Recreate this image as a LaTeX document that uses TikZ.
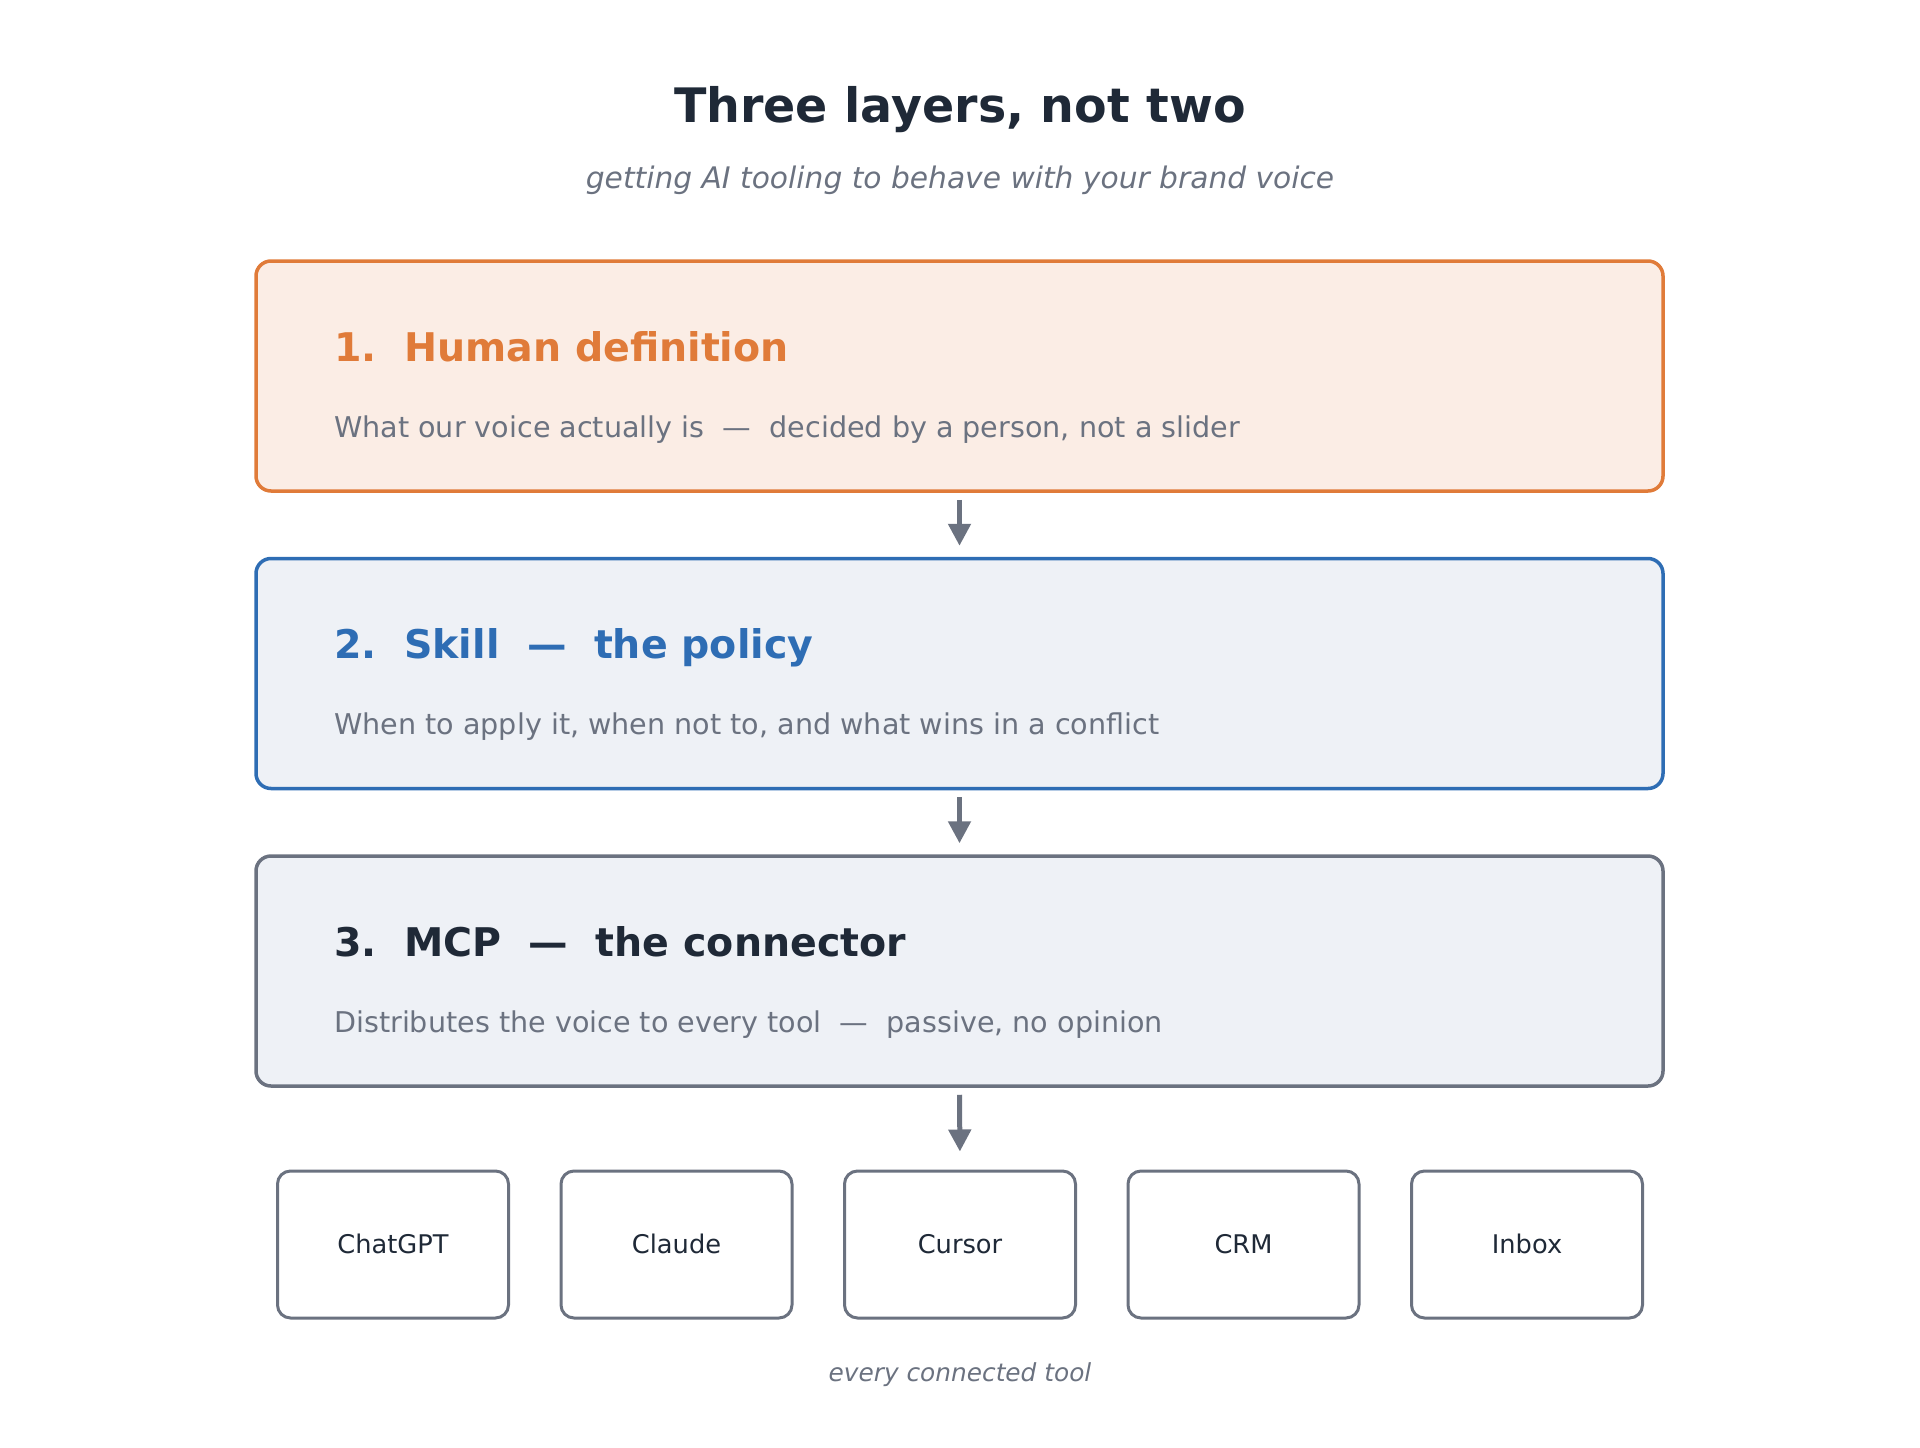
\documentclass[tikz,border=0pt]{standalone}
\usepackage{fontspec}
\setmainfont{DejaVu Sans}
\usepackage{xcolor}
\usepackage{tikz}
\usetikzlibrary{arrows.meta,positioning}

\definecolor{ink}{HTML}{1F2937}
\definecolor{muted}{HTML}{6B7280}
\definecolor{humanline}{HTML}{E07B39}
\definecolor{humanfill}{HTML}{FBEDE5}
\definecolor{skillline}{HTML}{2E6DB4}
\definecolor{panelfill}{HTML}{EEF1F6}

\tikzset{
  layer/.style={draw, rounded corners=15pt, line width=3.5pt, minimum width=1407pt, minimum height=230pt},
  toolbox/.style={draw=muted, fill=white, rounded corners=13pt, line width=3pt,
    minimum width=231pt, minimum height=147pt, text=ink, text height=18.8pt, text depth=0pt,
    font=\fontsize{25.7}{30}\selectfont},
  heading/.style={anchor=base west, inner sep=0pt, font=\bfseries\fontsize{39.5}{47}\selectfont},
  blurb/.style={anchor=base west, inner sep=0pt, text=muted, font=\fontsize{28.6}{34}\selectfont},
  flow/.style={-{Triangle[length=22pt,width=22pt]}, line width=5pt, draw=muted}
}

\begin{document}
\begin{tikzpicture}[x=1pt,y=-1pt]
        \useasboundingbox (0,0) rectangle (1920,1448);

        % Title
        \node[anchor=base, inner sep=0pt, text=ink, font=\bfseries\fontsize{47.5}{57}\selectfont] (title) at (960,122) {Three layers, not two};
        \node[anchor=base, inner sep=0pt, text=muted, font=\itshape\fontsize{29.7}{36}\selectfont] (subtitle) at (960,188) {getting AI tooling to behave with your brand voice};

        % Layers
        \node[layer, draw=humanline, fill=humanfill] (human) at (959.5,376) {};
        \node[layer, draw=skillline, fill=panelfill] (skill) at (959.5,673.5) {};
        \node[layer, draw=muted, fill=panelfill] (mcp) at (959.5,971) {};

        % Layer texts
        \node[heading, text=humanline] (humanhead) at (334,361) {1.\ \ Human definition};
        \node[blurb] (humantext) at (334,437) {What our voice actually is\ \ —\ \ decided by a person, not a slider};
        \node[heading, text=skillline] (skillhead) at (334,658) {2.\ \ Skill\ \ —\ \ the policy};
        \node[blurb] (skilltext) at (334,734) {When to apply it, when not to, and what wins in a conflict};
        \node[heading, text=ink] (mcphead) at (334,956) {3.\ \ MCP\ \ —\ \ the connector};
        \node[blurb] (mcptext) at (334,1032) {Distributes the voice to every tool\ \ —\ \ passive, no opinion};

        % Tools
        \foreach \name [count=\i] in {ChatGPT,Claude,Cursor,CRM,Inbox}
            \node[toolbox] (tool\i) at ({960+(\i-3)*283.5},1244.5) {\name};
        \node[anchor=base, inner sep=0pt, text=muted, font=\itshape\fontsize{24.8}{30}\selectfont] (footer) at (960,1381) {every connected tool};

        % Arrows
        \draw[flow, shorten <=7pt, shorten >=11pt] (human.south) -- (skill.north);
        \draw[flow, shorten <=7pt, shorten >=11pt] (skill.south) -- (mcp.north);
        \draw[flow, shorten <=7pt, shorten >=18pt] (mcp.south) -- (tool3.north);
    \end{tikzpicture}
\end{document}
